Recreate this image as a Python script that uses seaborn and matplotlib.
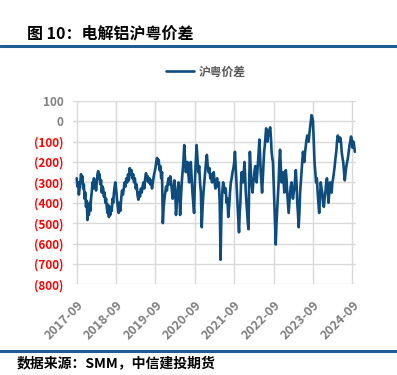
import pandas as pd
import matplotlib
matplotlib.use("Agg")
import matplotlib.pyplot as plt
import matplotlib.dates as mdates
from matplotlib.ticker import FuncFormatter, MultipleLocator
import seaborn as sns

# 沪粤价差 (元/吨)，按年分段读数（每年 9 月起）
seg_2017 = [-280, -320, -300, -360, -330, -300, -260, -290, -270, -330, -310, -380, -350, -420, -390, -485,
            -430, -460, -400, -440, -380, -350, -300, -330, -280, -310, -290, -340, -300, -260, -245, -280,
            -260, -310, -290, -350, -320, -330, -370, -350, -400, -380, -420, -450, -410, -470, -430, -460,
            -420, -440, -380, -400, -350, -320, -300]
seg_2018 = [-330, -380, -420, -450, -400, -440, -380, -340, -360, -330, -300, -320, -280, -300, -260, -290,
            -230, -260, -240, -280, -260, -300, -280, -330, -310, -360, -385, -350, -370, -330, -350, -320,
            -300, -330, -280, -255, -290, -270, -300, -280, -310, -290, -330, -300, -270, -250]
seg_2019 = [-230, -200, -180, -210, -190, -240, -220, -280, -250, -500, -420, -380, -350, -320, -340, -300,
            -280, -310, -270, -300, -340, -380, -350, -290, -330, -460, -400, -360, -300, -330, -460, -380,
            -300, -250, -200, -117, -180, -250, -220, -200, -260, -300, -240, -200, -280, -350, -400, -450]
seg_2020 = [-300, -200, -117, -180, -250, -220, -300, -350, -520, -420, -350, -300, -250, -200, -165, -220,
            -250, -230, -280, -260, -300, -270, -250, -300, -330, -300, -280, -320, -300, -400, -680, -450,
            -350, -300, -320, -350, -330, -400, -380, -470, -420, -350, -300, -280, -250, -230]
seg_2021 = [-200, -150, -220, -300, -360, -420, -480, -545, -450, -400, -300, -250, -280, -300, -250, -200,
            -260, -350, -400, -450, -500, -530, -300, -150, -220, -280, -320, -350, -300, -280, -240, -220,
            -260, -300, -250, -200, -150, -90, -160, -250, -300, -350, -280, -200, -150, -120, -80, -35,
            -80, -100, -70, -50, -40, -30, -80, -150, -180, -200]
seg_2022 = [-300, -410, -500, -605, -500, -430, -350, -300, -200, -140, -220, -300, -280, -250, -300, -350,
            -300, -240, -280, -350, -400, -450, -400, -350, -320, -300, -340, -380, -350, -330, -280, -240,
            -300, -400, -450, -520, -450, -350, -300, -250, -200, -150, -180, -200, -150, -120, -90, -70,
            -90, -100, -60, -30, 0, 30, 20]
seg_2023 = [0, -100, -200, -250, -300, -280, -350, -400, -450, -380, -300, -330, -350, -400, -420, -380,
            -350, -300, -280, -320, -400, -350, -300, -330, -350, -300, -280, -250, -220, -180, -150, -100,
            -70, -90, -100, -80, -100, -150, -180, -200, -250, -290, -250, -220, -200, -180, -150, -120,
            -100, -75, -90, -130, -100, -120, -150]
segments = [seg_2017, seg_2018, seg_2019, seg_2020, seg_2021, seg_2022, seg_2023]
seg_bounds = ["2017-09-01", "2018-09-01", "2019-09-01", "2020-09-01", "2021-09-01",
              "2022-09-01", "2023-09-01", "2024-10-01"]

frames = []
for i, vals in enumerate(segments):
    d = pd.date_range(seg_bounds[i], seg_bounds[i + 1], periods=len(vals) + 1)[:-1]
    frames.append(pd.DataFrame({"日期": d, "价差": vals}))
df = pd.concat(frames, ignore_index=True)

tick_dates = pd.to_datetime(["2017-09-01", "2018-09-01", "2019-09-01", "2020-09-01",
                             "2021-09-01", "2022-09-01", "2023-09-01", "2024-09-01"])

sns.set_theme(style="white")
plt.rcParams["font.family"] = ["Noto Sans CJK SC", "DejaVu Sans"]
plt.rcParams["axes.unicode_minus"] = False

fig = plt.figure(figsize=(3.97, 3.75), dpi=100)
ax = fig.add_axes([0.184, 0.242, 0.713, 0.489])

sns.lineplot(data=df, x="日期", y="价差", ax=ax, color="#0d4c7c", linewidth=1.9, label="沪粤价差", legend=False)

ax.set_xlim(pd.Timestamp("2017-07-29"), pd.Timestamp("2024-10-05"))
ax.set_ylim(-800, 100)
ax.yaxis.set_major_locator(MultipleLocator(100))
ax.set_xticks(tick_dates)
ax.xaxis.set_major_formatter(mdates.DateFormatter("%Y-%m"))
ax.yaxis.set_major_formatter(FuncFormatter(lambda v, p: f"({abs(int(v))})" if v < 0 else f"{int(v)}"))

ax.grid(True, color="#d9d9d9", linewidth=1.0)
ax.set_axisbelow(True)
for s in ax.spines.values():
    s.set_visible(False)
ax.set_xlabel("")
ax.set_ylabel("")
ax.tick_params(axis="both", length=0)
ax.tick_params(axis="y", pad=7)
ax.tick_params(axis="x", pad=10)

for lbl in ax.get_yticklabels():
    lbl.set_fontsize(8.5)
    lbl.set_fontweight("bold")
    lbl.set_color("#ff0000" if lbl.get_text().startswith("(") else "#7f7f7f")
for lbl in ax.get_xticklabels():
    lbl.set_fontsize(9)
    lbl.set_fontweight("bold")
    lbl.set_color("#7f7f7f")
    lbl.set_rotation(45)
    lbl.set_ha("right")
    lbl.set_rotation_mode("anchor")

handles, labels = ax.get_legend_handles_labels()
leg = fig.legend(handles, labels, loc="center", bbox_to_anchor=(206 / 397, 1 - 72 / 375),
                 frameon=False, handlelength=2.4, handletextpad=0.4,
                 prop={"size": 8.5, "weight": "bold"})
for t in leg.get_texts():
    t.set_color("#595959")

fig.text(27 / 397, 1 - 33 / 375, "图 10：电解铝沪粤价差", fontsize=11.5, fontweight="bold",
         va="center", ha="left", color="#000000")
fig.add_artist(plt.Line2D([0, 1], [1 - 46 / 375, 1 - 46 / 375], color="#1f5e94", linewidth=2.2))
fig.add_artist(plt.Line2D([0, 1], [1 - 351 / 375, 1 - 351 / 375], color="#1f5e94", linewidth=2.2))
fig.text(17 / 397, 1 - 363 / 375, "数据来源：SMM，中信建投期货", fontsize=10, fontweight="bold",
         style="italic", va="center", ha="left", color="#000000")

fig.savefig("out.png", dpi=100)
